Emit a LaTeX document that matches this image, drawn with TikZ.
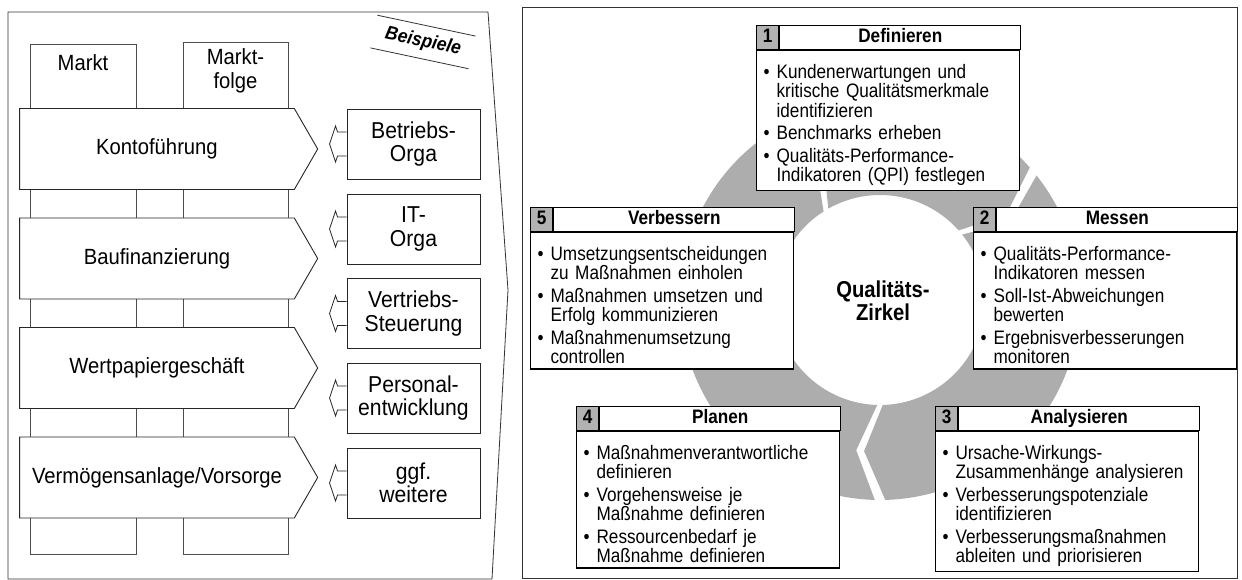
\documentclass[tikz,border=0pt]{standalone}
\usepackage{fontspec}
\setmainfont{Liberation Sans}
\newfontfamily\linksfont{Liberation Sans}[FakeStretch=0.92]
\newfontfamily\rechtsfont{Liberation Sans}[FakeStretch=0.88]
\usetikzlibrary{shapes.symbols,positioning}
% Aufzaehlungspunkt mit haengendem Einzug
\newcommand{\pkt}[1]{\par\addvspace{3pt}\hangindent=13pt\hangafter=1\noindent\makebox[13pt][l]{\textbullet}#1\par}
\tikzset{
    panel/.style ={draw=black!80, line width=0.8pt},
    saeule/.style ={draw=black!70, line width=1pt},
    prozess/.style ={signal, signal to=east, signal pointer angle=120, draw=black!85, fill=white, line width=0.9pt,
        minimum width=298pt, minimum height=81pt, inner sep=0pt, font=\linksfont\fontsize{22}{24}\selectfont},
    beispiel/.style ={rectangle, draw=black!85, fill=white, line width=0.9pt, minimum width=133pt, minimum height=70pt,
        inner sep=0pt, align=center, font=\linksfont\fontsize{23}{23.5}\selectfont},
    pfeil/.style ={draw=black!85, line width=0.8pt},
    segment/.style ={fill=black!32},
    nummer/.style ={rectangle, draw, line width=1.2pt, fill=black!30, minimum width=22pt, minimum height=24pt,
        inner sep=0pt, text height=14pt, text depth=4pt, font=\rechtsfont\bfseries\fontsize{19.5}{20}\selectfont},
    kopf/.style ={rectangle, draw, line width=1.2pt, fill=white, minimum width=241pt, minimum height=24pt,
        inner sep=0pt, text height=14pt, text depth=4pt, font=\rechtsfont\bfseries\fontsize{19.5}{20}\selectfont},
    inhalt/.style ={rectangle, draw, line width=1.2pt, fill=white, text width=249pt, inner xsep=7pt, inner ysep=5pt,
        minimum height=134pt, align=left, font=\rechtsfont\fontsize{19.5}{19.5}\selectfont}
}
\begin{document}
\begin{tikzpicture}[x=1pt,y=1pt]
    \useasboundingbox (0,0) rectangle (1242,580);
    % linke Seite
    \draw[panel] (8,568)--(488,568)--(508,290)--(492,1)--(8,1)--cycle;
    \draw[saeule] (30,25) rectangle (136,535);
    \draw[saeule] (183,25) rectangle (288,537);
    \node[font=\linksfont\fontsize{22}{24}\selectfont] (markt) at (83,517) {Markt};
    \node[font=\linksfont\fontsize{22}{24}\selectfont, align=center] (mfolge) at (235.5,509) {Markt-\\folge};
    \node[rotate=-12, minimum width=100pt, minimum height=33pt, inner sep=0pt,
        font=\linksfont\bfseries\itshape\fontsize{19}{19}\selectfont] (bsp) at (423,538) {Beispiele};
    \draw[panel] (bsp.north west)--(bsp.north east);
    \draw[panel] (bsp.south west)--(bsp.south east);
    \node[prozess] (kf) at (157,431) {Kontoführung};
    \node[prozess] (bf) at (157,321.5) {Baufinanzierung};
    \node[prozess] (wp) at (157,212) {Wertpapiergeschäft};
    \node[prozess] (va) at (157,102.5) {Vermögensanlage/Vorsorge};
    \node[beispiel] (bo) at (413.5,436) {Betriebs-\\Orga};
    \node[beispiel] (it) at (413.5,351) {IT-\\Orga};
    \node[beispiel] (vs) at (413.5,266.5) {Vertriebs-\\Steuerung};
    \node[beispiel] (pe) at (413.5,182) {Personal-\\entwicklung};
    \node[beispiel] (gw) at (413.5,97) {ggf.\\weitere};
    \foreach \b in {bo,it,vs,pe,gw}
        \draw[pfeil] (\b.west) ++(0,12) -- ++(-9,0) -- ++(-2,6) -- ++(-6,-18) -- ++(6,-18) -- ++(2,6) -- ++(9,0);
    % rechte Seite
    \draw[panel] (522,2) rectangle (1237,573);
    \begin{scope}[shift={(880,280)}]
        \foreach \a/\e in {119.5/41.5, 38.5/6.5, 3.5/-88.5, -91.5/-183.5, -186.5/-237.5}
            \fill[segment] (\a:200) arc[start angle=\a, end angle=\e, radius=200] -- (\e-7.5:152)
                -- (\e:105) arc[start angle=\e, end angle=\a, radius=105] -- (\a-7.5:152) -- cycle;
    \end{scope}
    \node[font=\rechtsfont\bfseries\fontsize{23}{23}\selectfont, align=center] (qz) at (883,279) {Qualitäts-\\Zirkel};
    % 1 Definieren
    \node[nummer, anchor=north west] (n1) at (756,555) {1};
    \node[kopf, right=0pt of n1] (k1) {Definieren};
    \node[inhalt, anchor=north west] (i1) at (n1.south west) {%
        \pkt{Kundenerwartungen und\newline kritische Qualitätsmerkmale\newline identifizieren}
        \pkt{Benchmarks erheben}
        \pkt{Qualitäts-Performance-\newline Indikatoren (QPI) festlegen}};
    % 2 Messen
    \node[nummer, anchor=north west] (n2) at (973,373) {2};
    \node[kopf, right=0pt of n2] (k2) {Messen};
    \node[inhalt, anchor=north west] (i2) at (n2.south west) {%
        \pkt{Qualitäts-Performance-\newline Indikatoren messen}
        \pkt{Soll-Ist-Abweichungen\newline bewerten}
        \pkt{Ergebnisverbesserungen\newline monitoren}};
    % 3 Analysieren
    \node[nummer, anchor=north west] (n3) at (935,174) {3};
    \node[kopf, right=0pt of n3] (k3) {Analysieren};
    \node[inhalt, anchor=north west] (i3) at (n3.south west) {%
        \pkt{Ursache-Wirkungs-\newline Zusammenhänge analysieren}
        \pkt{Verbesserungspotenziale\newline identifizieren}
        \pkt{Verbesserungsmaßnahmen\newline ableiten und priorisieren}};
    % 4 Planen
    \node[nummer, anchor=north west] (n4) at (576,174) {4};
    \node[kopf, right=0pt of n4] (k4) {Planen};
    \node[inhalt, anchor=north west] (i4) at (n4.south west) {%
        \pkt{Maßnahmenverantwortliche\newline definieren}
        \pkt{Vorgehensweise je\newline Maßnahme definieren}
        \pkt{Ressourcenbedarf je\newline Maßnahme definieren}};
    % 5 Verbessern
    \node[nummer, anchor=north west] (n5) at (530,373) {5};
    \node[kopf, right=0pt of n5] (k5) {Verbessern};
    \node[inhalt, anchor=north west] (i5) at (n5.south west) {%
        \pkt{Umsetzungsentscheidungen\newline zu Maßnahmen einholen}
        \pkt{Maßnahmen umsetzen und\newline Erfolg kommunizieren}
        \pkt{Maßnahmenumsetzung\newline controllen}};
\end{tikzpicture}
\end{document}
